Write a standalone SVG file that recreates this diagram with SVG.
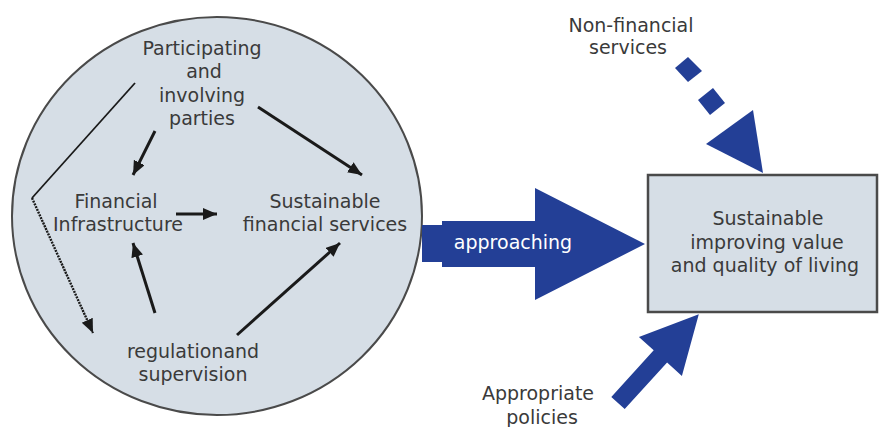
<svg xmlns="http://www.w3.org/2000/svg" width="881" height="427" viewBox="0 0 881 427">
<defs>
<style>
text{font-family:"DejaVu Sans","Liberation Sans",sans-serif;font-size:19px;fill:#3a3a3a;text-anchor:middle}
.w{fill:#ffffff}
.k{stroke:#1a1a1a;stroke-width:3;fill:none}
.blue{fill:#233f96}
</style>
<marker id="ah" markerUnits="userSpaceOnUse" markerWidth="16" markerHeight="14" refX="14" refY="6" orient="auto">
<path d="M0,0 L14,6 L0,12 Z" fill="#1a1a1a"/>
</marker>
</defs>
<rect width="881" height="427" fill="#ffffff"/>
<g id="circle">
<ellipse cx="217" cy="216" rx="205" ry="199" fill="#d6dee6" stroke="#4a4a4a" stroke-width="2"/>
</g>
<g id="connectors">
<line class="k" x1="155" y1="131" x2="133" y2="175" marker-end="url(#ah)"/>
<line class="k" x1="258" y1="107" x2="362" y2="175" marker-end="url(#ah)"/>
<line class="k" x1="176" y1="214" x2="217" y2="214" marker-end="url(#ah)"/>
<line class="k" x1="155" y1="313" x2="133" y2="243" marker-end="url(#ah)"/>
<line class="k" x1="237" y1="335" x2="340" y2="243" marker-end="url(#ah)"/>
<polyline points="135,83 32,198" fill="none" stroke="#1a1a1a" stroke-width="1.8"/>
<line x1="32" y1="198" x2="93" y2="333" stroke="#1a1a1a" stroke-width="2.4" stroke-dasharray="2 1" marker-end="url(#ah)"/>
<polygon class="blue" points="422,225 442,225 442,221 535,221 535,188 645,244 535,300 535,267 442,267 442,262 422,262"/>
<polygon class="blue" points="675,68 688,57 702,71 688,82"/>
<polygon class="blue" points="698,100 713,88 725,103 710,115"/>
<polygon class="blue" points="706,144 753,110 763,173"/>
<polygon class="blue" points="611.3,396.9 653.7,350.3 638.9,336.9 698.8,314.2 681.9,375.9 667.1,362.5 624.7,409.1"/>
<text class="w" x="513" y="249">approaching</text>
</g>
<g id="participating">
<text x="202" y="55">Participating</text>
<text x="204" y="78">and</text>
<text x="202" y="102">involving</text>
<text x="202" y="125">parties</text>
</g>
<g id="infrastructure">
<text x="116" y="208">Financial</text>
<text x="118" y="231">Infrastructure</text>
</g>
<g id="sustainable-services">
<text x="325" y="208">Sustainable</text>
<text x="325" y="231">financial services</text>
</g>
<g id="regulation">
<text x="193" y="358">regulationand</text>
<text x="193" y="381">supervision</text>
</g>
<g id="outcome">
<rect x="648" y="175" width="229" height="137" fill="#d6dee6" stroke="#4a4a4a" stroke-width="2.5"/>
<text x="768" y="225">Sustainable</text>
<text x="767" y="249">improving value</text>
<text x="765" y="272">and quality of living</text>
</g>
<g id="nonfinancial">
<text x="631" y="32">Non-financial</text>
<text x="628" y="54">services</text>
</g>
<g id="policies">
<text x="538" y="400">Appropriate</text>
<text x="542" y="424">policies</text>
</g>
</svg>
